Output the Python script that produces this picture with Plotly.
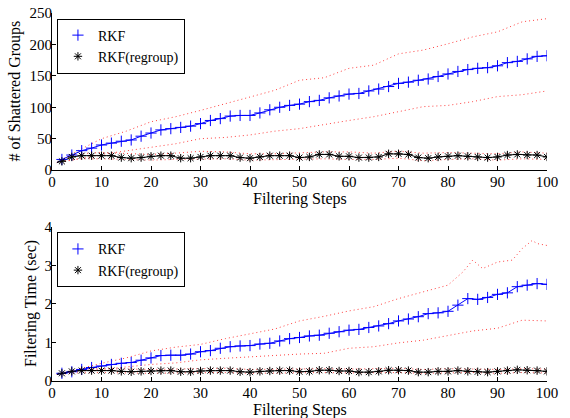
import plotly.graph_objects as go
from plotly.subplots import make_subplots

steps = [1] + list(range(2, 101, 2))
bound_steps = [1] + list(range(5, 101, 5))
bound_steps_time = [1, 5, 10, 15, 20, 25, 30, 35, 40, 45, 50, 55, 60, 65, 70, 75, 80, 83, 85, 87, 90, 93, 95, 97, 98, 100]

# Top: number of shattered groups
groups_rkf = [12, 17, 24, 31, 35, 40, 43, 46, 48, 54, 59, 64, 66, 68, 70, 74, 79, 82, 86, 87, 87,
              91, 96, 100, 103, 105, 109, 111, 115, 118, 121, 122, 126, 129, 133, 138, 140, 143,
              145, 149, 153, 157, 160, 162, 163, 166, 171, 173, 177, 181, 182]
groups_rkf_hi = [12, 30, 50, 62, 77, 85, 95, 106, 117, 127, 143, 147, 162, 167, 185, 191, 201, 212, 220, 236, 241]
groups_rkf_lo = [12, 17, 25, 31, 37, 42, 50, 52, 56, 62, 66, 73, 79, 85, 93, 101, 103, 109, 117, 120, 126]
groups_reg = [12, 14, 21, 23, 23, 23, 23, 20, 19, 20, 22, 23, 23, 19, 19, 21, 23, 23, 23, 20, 19,
              21, 23, 23, 23, 20, 21, 25, 25, 22, 22, 20, 20, 21, 26, 26, 25, 20, 19, 21, 22,
              23, 22, 21, 20, 21, 24, 25, 24, 24, 21]
groups_reg_hi = [12, 26, 28, 27, 25, 27, 30, 29, 26, 26, 28, 29, 29, 27, 30, 27, 28, 27, 26, 29, 27]
groups_reg_lo = [12, 18, 18, 17, 16, 17, 18, 18, 16, 17, 17, 18, 17, 17, 19, 15, 17, 18, 16, 18, 17]

# Bottom: filtering time
time_rkf = [0.17, 0.20, 0.24, 0.30, 0.35, 0.39, 0.43, 0.46, 0.48, 0.54, 0.60, 0.66, 0.67, 0.67,
            0.70, 0.76, 0.79, 0.85, 0.89, 0.91, 0.92, 0.96, 0.98, 1.04, 1.10, 1.13, 1.17, 1.19,
            1.24, 1.28, 1.32, 1.34, 1.39, 1.43, 1.49, 1.56, 1.61, 1.67, 1.75, 1.77, 1.81, 1.97,
            2.14, 2.12, 2.17, 2.25, 2.29, 2.45, 2.49, 2.53, 2.51]
time_rkf_hi = [0.17, 0.30, 0.46, 0.60, 0.78, 0.88, 0.95, 1.10, 1.23, 1.35, 1.56, 1.68, 1.82, 1.93,
               2.14, 2.32, 2.49, 2.83, 3.14, 2.92, 3.09, 3.14, 3.44, 3.65, 3.57, 3.52]
time_rkf_lo = [0.17, 0.25, 0.30, 0.36, 0.43, 0.47, 0.55, 0.59, 0.63, 0.67, 0.70, 0.72, 0.85, 0.89,
               0.99, 1.06, 1.17, 1.30, 1.37, 1.58, 1.56]
time_reg = [0.17, 0.20, 0.25, 0.27, 0.27, 0.27, 0.27, 0.25, 0.24, 0.25, 0.26, 0.27, 0.27, 0.24,
            0.24, 0.26, 0.27, 0.27, 0.27, 0.24, 0.23, 0.25, 0.26, 0.27, 0.27, 0.24, 0.25, 0.28,
            0.28, 0.26, 0.26, 0.23, 0.23, 0.25, 0.28, 0.28, 0.27, 0.23, 0.23, 0.25, 0.25, 0.27,
            0.25, 0.24, 0.23, 0.25, 0.27, 0.29, 0.28, 0.27, 0.25]
time_reg_hi = [0.17, 0.30, 0.32, 0.31, 0.30, 0.31, 0.32, 0.33, 0.30, 0.31, 0.32, 0.32, 0.31, 0.32,
               0.33, 0.30, 0.32, 0.31, 0.30, 0.32, 0.31]
time_reg_lo = [0.17, 0.21, 0.22, 0.21, 0.20, 0.21, 0.22, 0.22, 0.20, 0.21, 0.21, 0.22, 0.21, 0.21,
               0.22, 0.20, 0.21, 0.22, 0.20, 0.22, 0.21]

BLUE = "#0000ff"
RED = "#ff4040"
FONT = "Liberation Serif"

fig = make_subplots(rows=2, cols=1, vertical_spacing=0.16)


def add_panel(row, rkf, rkf_hi, rkf_lo, hi_x, lo_x, reg, reg_hi, reg_lo, legend):
    dot = dict(color=RED, width=1, dash="1px,3px")
    for xs, ys in [(hi_x, rkf_hi), (lo_x, rkf_lo), (bound_steps, reg_hi), (bound_steps, reg_lo)]:
        fig.add_trace(go.Scatter(x=xs, y=ys, mode="lines", line=dot, showlegend=False,
                                 hoverinfo="skip"), row=row, col=1)
    fig.add_trace(go.Scatter(x=steps, y=rkf, mode="lines", line=dict(color=BLUE, width=1),
                             showlegend=False), row=row, col=1)
    fig.add_trace(go.Scatter(x=steps, y=reg, mode="lines", line=dict(color="black", width=1),
                             showlegend=False), row=row, col=1)
    fig.add_trace(go.Scatter(x=steps[1:], y=rkf[1:], mode="markers", name="RKF",
                             marker=dict(symbol="cross-thin", size=8, line=dict(color=BLUE, width=1)),
                             legend=legend), row=row, col=1)
    fig.add_trace(go.Scatter(x=steps[1:], y=reg[1:], mode="markers", name="RKF(regroup)",
                             marker=dict(symbol="asterisk", size=7, line=dict(color="black", width=1)),
                             legend=legend), row=row, col=1)


add_panel(1, groups_rkf, groups_rkf_hi, groups_rkf_lo, bound_steps, bound_steps,
          groups_reg, groups_reg_hi, groups_reg_lo, "legend")
add_panel(2, time_rkf, time_rkf_hi, time_rkf_lo, bound_steps_time, bound_steps,
          time_reg, time_reg_hi, time_reg_lo, "legend2")

axis_style = dict(showline=True, linecolor="black", linewidth=1, ticks="inside", ticklen=4,
                  tickcolor="black", showgrid=False, zeroline=False, automargin=False,
                  tickfont=dict(family=FONT, size=15, color="black"))
title_font = dict(family=FONT, size=16, color="black")

for r in (1, 2):
    fig.update_xaxes(range=[0, 100], tick0=0, dtick=10, row=r, col=1,
                     ticklabelstandoff=-2, **axis_style)
fig.update_yaxes(range=[0, 250], dtick=50, row=1, col=1, ticklabelstandoff=-4, **axis_style)
fig.update_yaxes(range=[0, 4], dtick=1, row=2, col=1, ticklabelstandoff=-4, **axis_style)

for xd, yd in (("x domain", "y domain"), ("x2 domain", "y2 domain")):
    fig.add_annotation(text="Filtering Steps", xref=xd, yref=yd, x=0.5, y=0, yshift=-29,
                       showarrow=False, xanchor="center", yanchor="middle", font=title_font)
fig.add_annotation(text="# of Shattered Groups", xref="x domain", yref="y domain", x=0, y=0.5,
                   xshift=-37, textangle=-90, showarrow=False, xanchor="center", yanchor="middle",
                   font=title_font)
fig.add_annotation(text="Filtering Time (sec)", xref="x2 domain", yref="y2 domain", x=0, y=0.5,
                   xshift=-21, textangle=-90, showarrow=False, xanchor="center", yanchor="middle",
                   font=title_font)

leg = dict(bgcolor="white", bordercolor="black", borderwidth=1,
           font=dict(family=FONT, size=14, color="black"), xanchor="left", yanchor="top",
           tracegroupgap=0, entrywidth=92)
fig.update_layout(
    width=570, height=418,
    margin=dict(l=52, r=23, t=13, b=37),
    plot_bgcolor="white", paper_bgcolor="white",
    legend=dict(x=0.01, y=0.985, **leg),
    legend2=dict(x=0.01, y=0.404, **leg),
)
fig.update_layout(yaxis=dict(domain=[0.573, 1.0]), yaxis2=dict(domain=[0.0, 0.4185]))

fig.write_html("out.html", config={"displayModeBar": False},
               post_script="document.body.style.margin='0';document.body.style.overflow='hidden';")
